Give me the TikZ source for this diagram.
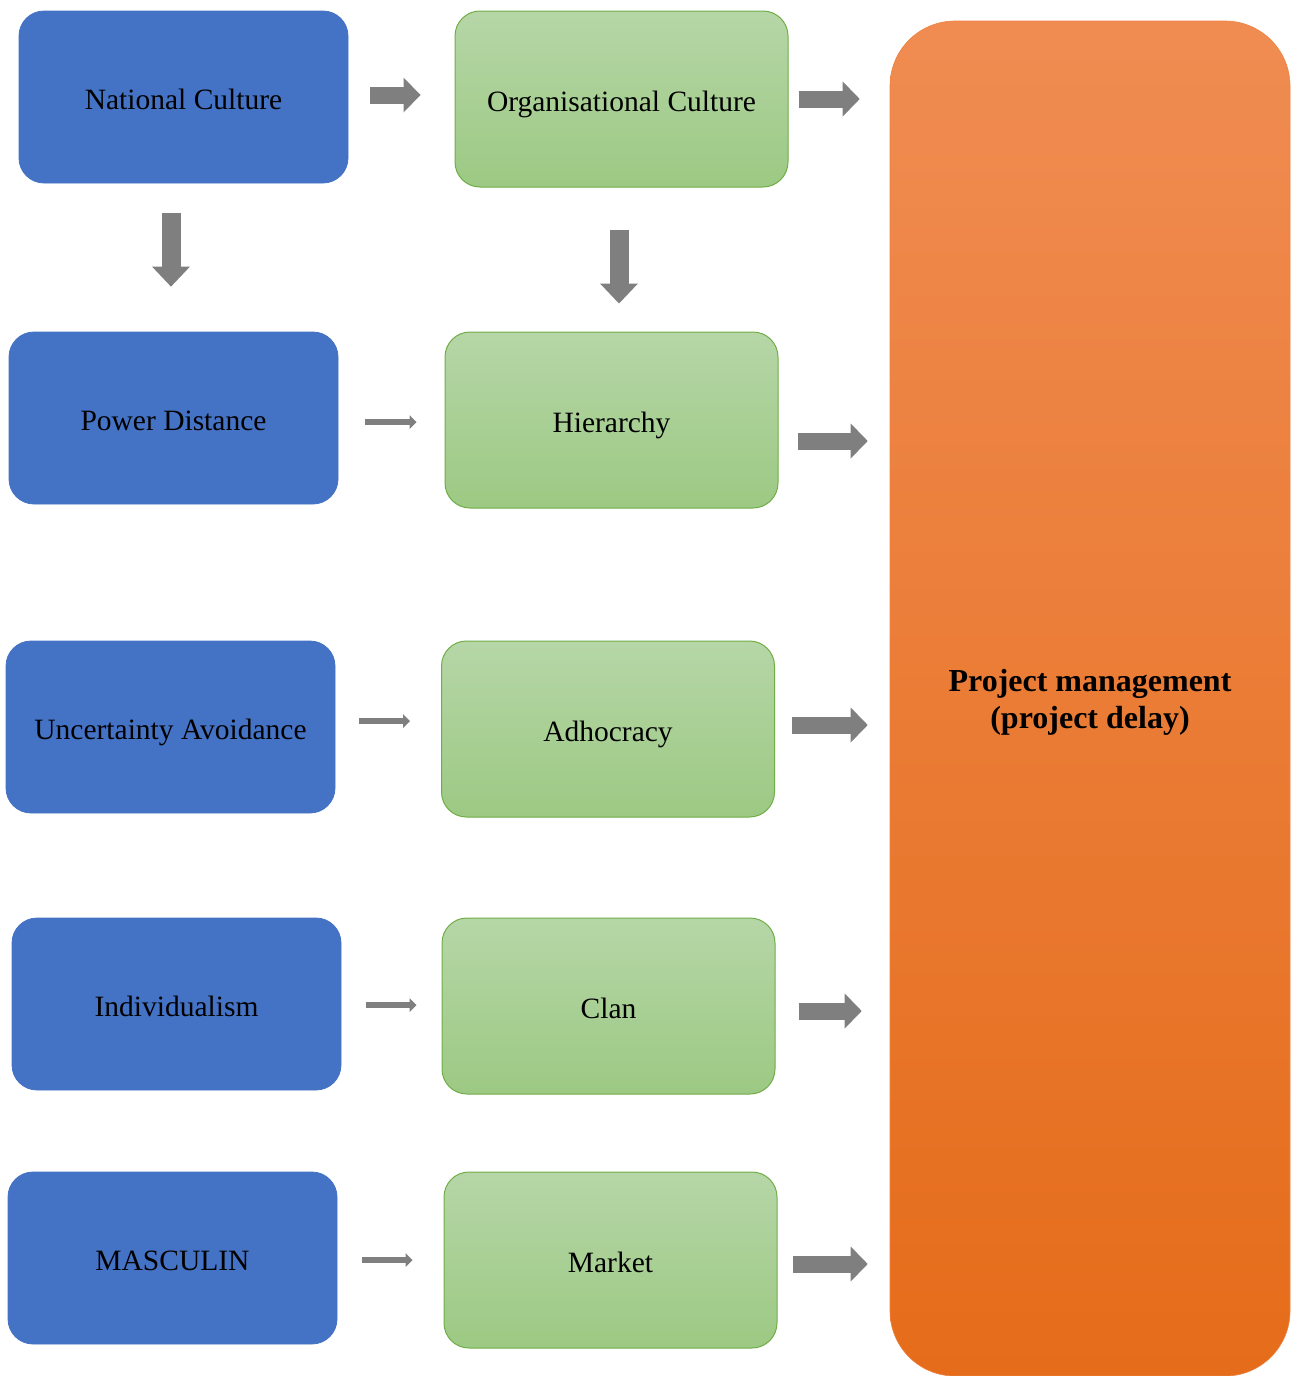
\documentclass[tikz,border=0pt]{standalone}
\usepackage{fontspec}
\setmainfont{Liberation Serif}
\usetikzlibrary{arrows.meta,calc}

\definecolor{boxblue}{HTML}{4472C4}
\definecolor{greentop}{HTML}{B6D6A7}
\definecolor{greenbot}{HTML}{9CC983}
\definecolor{greenline}{HTML}{70AD47}
\definecolor{orangetop}{HTML}{F08C52}
\definecolor{orangemid}{HTML}{F57D2E}
\definecolor{orangebot}{HTML}{E56C1A}
\definecolor{arrowgray}{HTML}{7F7F7F}

\tikzset{
  boxtext/.style={font=\fontsize{29.5}{34}\selectfont, text height=26pt, text depth=2pt},
  dimbox/.style={boxtext, draw=boxblue, line width=0.8pt, fill=boxblue, rounded corners=25pt,
    minimum width=329pt, minimum height=172pt, inner sep=0pt},
  orgbox/.style={boxtext, draw=greenline, line width=1pt, top color=greentop, bottom color=greenbot,
    rounded corners=25pt, minimum width=333pt, minimum height=176pt, inner sep=0pt},
  outcome/.style={draw=orangetop!70!orangebot, line width=0.6pt, top color=orangetop,
    middle color=orangemid, bottom color=orangebot, rounded corners=65pt,
    minimum width=400pt, minimum height=1355pt, inner sep=0pt},
  outcometext/.style={align=center, inner sep=0pt,
    font=\fontsize{32}{37}\selectfont\bfseries},
  bigarrow/.style={draw=arrowgray, line width=17pt,
    -{Triangle[width=35pt,length=17pt,line width=0pt]}},
  downarrow/.style={draw=arrowgray, line width=19pt,
    -{Triangle[width=38pt,length=20pt,line width=0pt]}},
  thinarrow/.style={draw=arrowgray, line width=6pt,
    -{Triangle[width=14pt,length=7pt,line width=0pt]}},
}

\begin{document}
\begin{tikzpicture}[x=1pt,y=-1pt]
  \useasboundingbox (0,0) rectangle (1291,1376);

  % national culture dimensions
  \node[dimbox] (nc)  at (183.5,97)   {National Culture};
  \node[dimbox] (pd)  at (173.5,418)  {Power Distance};
  \node[dimbox] (ua)  at (170.5,727)  {Uncertainty Avoidance};
  \node[dimbox] (ind) at (176.5,1004) {Individualism};
  \node[dimbox] (mas) at (172.5,1258) {MASCULIN};

  % organisational culture types
  \node[orgbox] (oc) at (621.5,99)  {Organisational Culture};
  \node[orgbox] (hi) at (611.5,420) {Hierarchy};
  \node[orgbox] (ad) at (608,729)   {Adhocracy};
  \node[orgbox] (cl) at (608.5,1006){Clan};
  \node[orgbox] (mk) at (610.5,1260){Market};

  % outcome
  \node[outcome] (pm) at (1090,698.5) {};
  \node[outcometext] (pmtext) at ($(pm.center)+(0,4)$) {Project management\\(project delay)};

  % top row
  \draw[bigarrow] ($(nc.east)+(22,-2)$) -- ($(oc.west)+(-34,-4)$);
  \draw[bigarrow] ($(oc.east)+(10,0)$) -- ($(oc.east -| pm.west)+(-30,0)$);
  \draw[downarrow] ($(nc.south)+(-12.5,30)$) -- ($(pd.north)+(-2.5,-45)$);
  \draw[downarrow] ($(oc.south)+(-2.5,42)$) -- ($(hi.north)+(7.5,-28)$);

  % dimension to culture type
  \draw[thinarrow] ($(pd.east)+(27,4)$)  -- ($(hi.west)+(-28,2)$);
  \draw[thinarrow] ($(ua.east)+(24,-6)$) -- ($(ad.west)+(-31,-8)$);
  \draw[thinarrow] ($(ind.east)+(25,1)$) -- ($(cl.west)+(-25,-1)$);
  \draw[thinarrow] ($(mas.east)+(25,2)$) -- ($(mk.west)+(-31,0)$);

  % culture type to project management
  \draw[bigarrow] ($(hi.east)+(19,21)$) -- ($(hi.east -| pm.west)+(-22,21)$);
  \draw[bigarrow] ($(ad.east)+(17,-4)$) -- ($(ad.east -| pm.west)+(-22,-4)$);
  \draw[bigarrow] ($(cl.east)+(23,5)$)  -- ($(cl.east -| pm.west)+(-28,5)$);
  \draw[bigarrow] ($(mk.east)+(15,4)$)  -- ($(mk.east -| pm.west)+(-22,4)$);
\end{tikzpicture}
\end{document}
